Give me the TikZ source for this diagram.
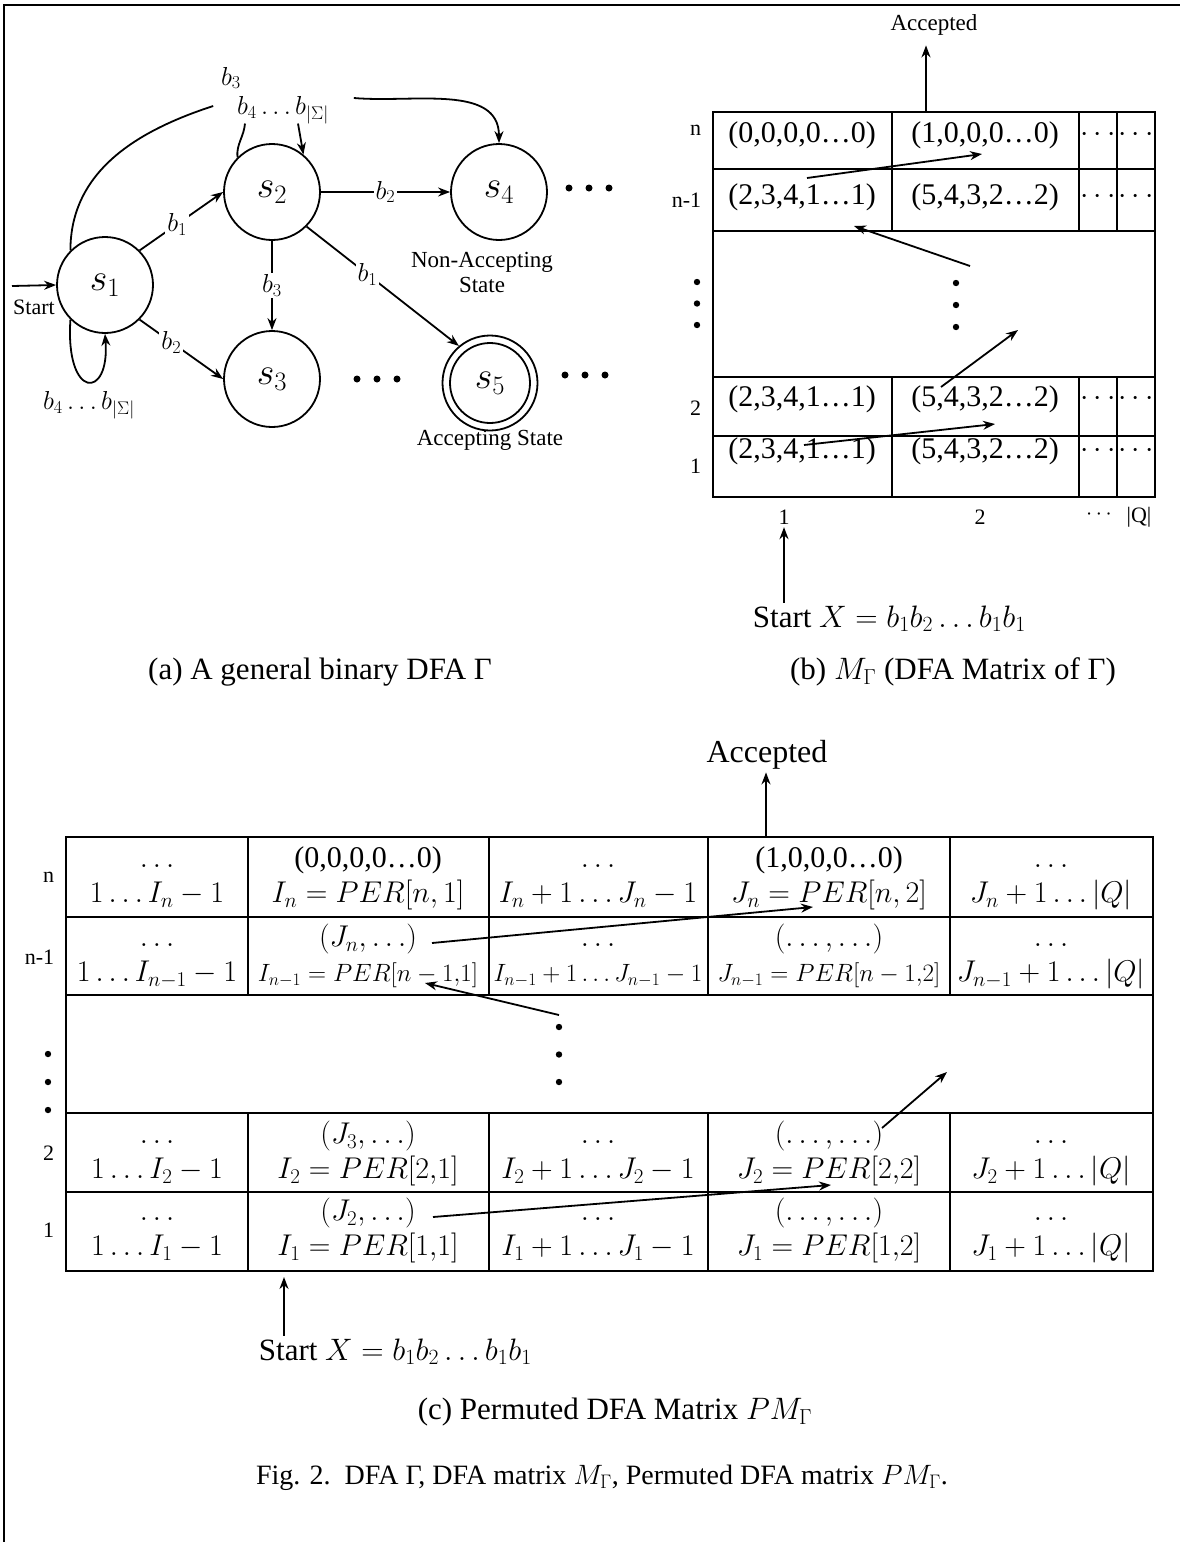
\RequirePackage{fix-cm}
\documentclass[tikz,border=0pt]{standalone}
\usepackage{fontspec}
\setmainfont{Liberation Serif}
\usetikzlibrary{arrows.meta}

\tikzset{
  state/.style={circle, draw, minimum size=96pt, inner sep=0pt, font=\fontsize{38}{40}\selectfont},
  trans/.style={fill=white, inner sep=2pt, font=\fontsize{26}{28}\selectfont},
  note/.style={inner sep=2pt, font=\fontsize{23}{25}\selectfont},
  rowlab/.style={anchor=east, inner sep=2pt, font=\fontsize{22}{24}\selectfont},
  mcell/.style={inner sep=2pt, font=\fontsize{30}{34}\selectfont},
  pcell/.style={align=center, inner sep=0pt, font=\fontsize{30}{35}\selectfont},
  capt/.style={inner sep=2pt, font=\fontsize{31}{34}\selectfont},
}
\newcommand{\cellsmall}{\fontsize{25}{35}\selectfont}
\newcommand{\celltwo}[2]{\strut#1\\\strut#2}
\newcommand{\vdotsat}[3]{\foreach \k in {0,1,2} \fill (#1,#2+\k*#3) circle[radius=3.2pt];}
\newcommand{\hdotsat}[2]{\foreach \k in {0,1,2} \fill (#1+\k*20,#2) circle[radius=3.5pt];}

\begin{document}
\begin{tikzpicture}[x=1pt, y=-1pt, line width=1.8pt, >={Stealth[length=12pt, width=9pt]}]
\useasboundingbox (0,0) rectangle (1180,1542);
\draw[line width=2.2pt] (4,1542) -- (4,5) -- (1180,5);

% (a) the DFA
\node[state] (s1) at (105,285) {$s_1$};
\node[state] (s2) at (272,192) {$s_2$};
\node[state] (s3) at (272,379) {$s_3$};
\node[state] (s4) at (499,192) {$s_4$};
\node[state, minimum size=95pt] (s5) at (490,383) {$s_5$};
\draw (s5.center) circle[radius=40pt];

\coordinate (startin) at (12,286);
\node[rowlab, anchor=center] (startA) at (34,307) {Start};
\draw[->] (startin) -- (s1.west);

\draw[->] (s1.45) -- node[trans, pos=0.45] (l12) {$b_1$} (s2.180);
\draw[->] (s1.-45) -- node[trans, pos=0.38] (l13) {$b_2$} (s3.180);
\draw[->] (s2) -- node[trans] (l24) {$b_2$} (s4);
\draw[->] (s2) -- node[trans] (l23) {$b_3$} (s3);
\draw[->] (s2.-45) -- node[trans, pos=0.4] (l25) {$b_1$} (s5.130);
\draw[->] (s1.225) .. controls (65,400) and (110,400) .. (s1.270);
\node[trans] (l11) at (89,405) {$b_4 \ldots b_{|\Sigma|}$};

\node[trans] (lsig) at (283,110) {$b_4 \ldots b_{|\Sigma|}$};
\node[trans] (lb3) at (231,78) {$b_3$};
\draw (s1.135) to[out=90, in=198] ([xshift=-21pt, yshift=4pt]lsig.west);
\draw[->] ([xshift=22pt, yshift=12pt]lsig.east) to[out=-5, in=90] (s4.north);
\draw (s2.135) to[out=95, in=-95] ([xshift=-38pt, yshift=3pt]lsig.south);
\draw[->] ([xshift=15pt, yshift=3pt]lsig.south) to[out=-80, in=100] (s2.50);

\hdotsat{569}{188}
\hdotsat{357}{379}
\hdotsat{565}{375}
\node[note, align=center] (nacc) at (482,272) {Non-Accepting\\State};
\node[note] (acc) at (490,440) {Accepting State};
\node[capt] (capA) at (320,672) {(a) A general binary DFA Γ};

% (b) the DFA matrix
\draw (713,112) rectangle (1155,497);
\foreach \y in {169,231,377,436} \draw (713,\y) -- (1155,\y);
\foreach \x in {892,1079,1117} {
  \draw (\x,112) -- (\x,231);
  \draw (\x,377) -- (\x,497);
}
\foreach \r/\y/\u/\v in {n/135/{(0,0,0,0…0)}/{(1,0,0,0…0)}, m/197/{(2,3,4,1…1)}/{(5,4,3,2…2)}, 2/399/{(2,3,4,1…1)}/{(5,4,3,2…2)}, 1/451/{(2,3,4,1…1)}/{(5,4,3,2…2)}} {
  \node[mcell] (b\r-1) at (802,\y) {\u};
  \node[mcell] (b\r-2) at (985,\y) {\v};
  \node[mcell] (b\r-3) at (1098,\y) {$\cdots$};
  \node[mcell] (b\r-4) at (1136,\y) {$\cdots$};
}
\node[rowlab] (rbn) at (704,130) {n};
\node[rowlab] (rbm) at (704,200) {n-1};
\node[rowlab] (rb2) at (704,408) {2};
\node[rowlab] (rb1) at (704,466) {1};
\vdotsat{697}{282}{21.5}
\vdotsat{956}{283}{22}
\node[rowlab, anchor=center] (colB1) at (784,517) {1};
\node[rowlab, anchor=center] (colB2) at (980,517) {2};
\node[rowlab, anchor=center] (colB3) at (1099,515) {$\cdots$};
\node[rowlab, anchor=center] (colB4) at (1139,517) {|Q|};

\node[note, outer sep=8pt] (accB) at (934,25) {Accepted};
\coordinate (baccfrom) at (926,112);
\draw[->] (baccfrom) -- (baccfrom |- accB.south);
\coordinate (b1a) at (807,178); \coordinate (b1b) at (982,154);
\coordinate (b2a) at (970,266); \coordinate (b2b) at (854,226);
\coordinate (b3a) at (941,387); \coordinate (b3b) at (1018,330);
\coordinate (b4a) at (804,445); \coordinate (b4b) at (995,424);
\draw[->] (b1a) -- (b1b);
\draw[->] (b2a) -- (b2b);
\draw[->] (b3a) -- (b3b);
\draw[->] (b4a) -- (b4b);
\node[capt, anchor=base west] (startB) at (750,627) {Start $X = b_1 b_2 \ldots b_1 b_1$};
\draw[->] (startB.north -| colB1) -- (colB1.south);
\node[capt] (capB) at (953,672) {(b) $M_\Gamma$ (DFA Matrix of Γ)};

% (c) the permuted DFA matrix
\draw (66,837) rectangle (1153,1271);
\foreach \y in {917,995,1113,1192} \draw (66,\y) -- (1153,\y);
\foreach \x in {248,489,708,950} {
  \draw (\x,837) -- (\x,995);
  \draw (\x,1113) -- (\x,1271);
}
\node[pcell] (pn1) at (157,878) {\celltwo{$\ldots$}{$1 \ldots I_n - 1$}};
\node[pcell] (pn2) at (368,878) {\celltwo{(0,0,0,0…0)}{$I_n = PER[n, 1]$}};
\node[pcell] (pn3) at (598,878) {\celltwo{$\ldots$}{$I_n + 1 \ldots J_n - 1$}};
\node[pcell] (pn4) at (829,878) {\celltwo{(1,0,0,0…0)}{$J_n = PER[n, 2]$}};
\node[pcell] (pn5) at (1051,878) {\celltwo{$\ldots$}{$J_n + 1 \ldots |Q|$}};

\node[pcell] (pm1) at (157,957) {\celltwo{$\ldots$}{$1 \ldots I_{n-1} - 1$}};
\node[pcell] (pm2) at (368,957) {\celltwo{$(J_n, \ldots)$}{\cellsmall $I_{n-1} = PER[n-1{,}1]$}};
\node[pcell] (pm3) at (598,957) {\celltwo{$\ldots$}{\cellsmall $I_{n-1} + 1 \ldots J_{n-1} - 1$}};
\node[pcell] (pm4) at (829,957) {\celltwo{$(\ldots, \ldots)$}{\cellsmall $J_{n-1} = PER[n-1{,}2]$}};
\node[pcell] (pm5) at (1051,957) {\celltwo{$\ldots$}{$J_{n-1} + 1 \ldots |Q|$}};

\foreach \r/\y/\q in {2/1154/3, 1/1231/2} {
  \node[pcell] (p\r-1) at (157,\y) {\celltwo{$\ldots$}{$1 \ldots I_\r - 1$}};
  \node[pcell] (p\r-2) at (368,\y) {\celltwo{$(J_\q, \ldots)$}{$I_\r = PER[\r{,}1]$}};
  \node[pcell] (p\r-3) at (598,\y) {\celltwo{$\ldots$}{$I_\r + 1 \ldots J_\r - 1$}};
  \node[pcell] (p\r-4) at (829,\y) {\celltwo{$(\ldots, \ldots)$}{$J_\r = PER[\r{,}2]$}};
  \node[pcell] (p\r-5) at (1051,\y) {\celltwo{$\ldots$}{$J_\r + 1 \ldots |Q|$}};
}
\node[rowlab] (rcn) at (57,877) {n};
\node[rowlab] (rcm) at (57,957) {n-1};
\node[rowlab] (rc2) at (57,1153) {2};
\node[rowlab] (rc1) at (57,1230) {1};
\vdotsat{48}{1054}{28}
\vdotsat{559}{1027}{27.5}

\node[capt, font=\fontsize{32}{34}\selectfont] (accC) at (767,755) {Accepted};
\coordinate (caccfrom) at (766,837);
\draw[->] (caccfrom) -- (caccfrom |- accC.south);
\coordinate (c1a) at (432,943); \coordinate (c1b) at (813,907);
\coordinate (c2a) at (559,1015); \coordinate (c2b) at (425,983);
\coordinate (c3a) at (882,1128); \coordinate (c3b) at (947,1072);
\coordinate (c4a) at (433,1217); \coordinate (c4b) at (831,1185);
\draw[->] (c1a) -- (c1b);
\draw[->] (c2a) -- (c2b);
\draw[->] (c3a) -- (c3b);
\draw[->] (c4a) -- (c4b);
\coordinate (cstart) at (284,1277);
\node[capt, anchor=base west] (startC) at (256,1360) {Start $X = b_1 b_2 \ldots b_1 b_1$};
\draw[->] (startC.north -| cstart) -- (cstart);
\node[capt] (capC) at (615,1412) {(c) Permuted DFA Matrix $PM_\Gamma$};
\node[capt, font=\fontsize{28}{30}\selectfont] (capFig) at (602,1478) {Fig. 2.\ \ DFA Γ, DFA matrix $M_\Gamma$, Permuted DFA matrix $PM_\Gamma$.};
\end{tikzpicture}
\end{document}
